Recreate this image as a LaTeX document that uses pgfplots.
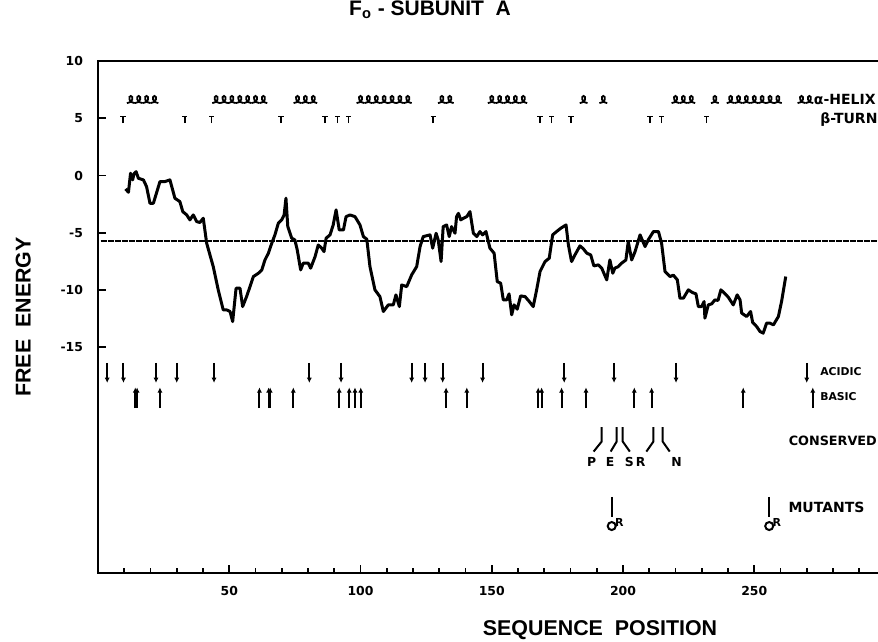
\documentclass[border=0pt]{standalone}
\usepackage{pgfplots}
\pgfplotsset{compat=1.18}
\usepackage{fontspec}
\setmainfont{Liberation Sans}
\newfontfamily\dvs{DejaVu Sans}
\usetikzlibrary{arrows.meta}
\newcommand\tlab{\dvs\fontsize{6.2}{7}\selectfont\bfseries}
\newcommand\slab{\dvs\fontsize{5.4}{6.5}\selectfont\bfseries}
\newcommand\mlab{\dvs\fontsize{7}{8}\selectfont\bfseries}
\pgfdeclareplotmark{helixloop}{%
 \pgfpathmoveto{\pgfqpoint{-1.95pt}{-1.6pt}}%
 \pgfpathcurveto{\pgfqpoint{1.2pt}{-1.6pt}}{\pgfqpoint{1.4pt}{2.0pt}}{\pgfqpoint{0pt}{2.0pt}}%
 \pgfpathcurveto{\pgfqpoint{-1.4pt}{2.0pt}}{\pgfqpoint{-1.0pt}{-1.6pt}}{\pgfqpoint{1.95pt}{-1.6pt}}%
 \pgfusepathqstroke}
\pgfdeclareplotmark{turnT}{%
 \pgfpathmoveto{\pgfqpoint{0pt}{-1.8pt}}\pgfpathlineto{\pgfqpoint{0pt}{1.5pt}}%
 \pgfpathmoveto{\pgfqpoint{-1.3pt}{1.5pt}}\pgfpathlineto{\pgfqpoint{1.3pt}{1.5pt}}%
 \pgfusepathqstroke}
\begin{document}
\begin{tikzpicture}
\begin{axis}[
  at={(0,0)}, anchor=south west,
  scale only axis, width=393.75pt, height=256pt,
  xmin=0, xmax=300, ymin=-34.7, ymax=10,
  axis line style={line width=1.3pt},
  xtick={50,100,150,200,250}, minor xtick={10,20,...,290},
  ytick={-15,-10,...,10},
  xtick pos=bottom, ytick pos=left, tick align=inside,
  major tick length=4pt, minor tick length=2.6pt,
  tick style={line width=0.9pt, black},
  /pgf/number format/assume math mode=true,
  tick label style={font=\tlab},
  yticklabel style={xshift=-4pt},
  xticklabel style={yshift=-3pt},
  title={F\textsubscript{o} - SUBUNIT \ A},
  title style={font=\fontsize{10.5}{12}\selectfont\bfseries, at={(axis description cs:0.4216,1)}, anchor=center, yshift=19.5pt},
  xlabel={SEQUENCE \ POSITION},
  xlabel style={font=\fontsize{10.7}{12}\selectfont\bfseries, at={(axis description cs:0.6375,0)}, anchor=center, yshift=-28.5pt},
  ylabel={FREE \ ENERGY},
  ylabel style={font=\fontsize{10.7}{12}\selectfont\bfseries, at={(axis description cs:-0.095,0.5)}, anchor=center},
  clip=false,
]
% threshold line
\addplot[line width=1pt, dash pattern=on 3pt off 0.5pt] coordinates {(1,-5.7) (300,-5.7)};
% free energy profile
\addplot[line width=1.5pt, line join=round] coordinates {
(10.5,-1.17) (11.6,-1.46) (12.4,0.2) (13.2,-0.38) (13.7,0.14) (14.5,0.34) (15.4,-0.24) (17.3,-0.38)
(18.5,-0.97) (19.8,-2.42) (21.1,-2.42) (23.6,-0.53) (25.5,-0.53) (27.4,-0.38) (29.3,-1.98) (31.2,-2.28)
(32.3,-3.15) (33.8,-3.44) (35.0,-3.87) (36.3,-3.44) (37.6,-4.02) (38.8,-4.1) (40.1,-3.73) (41.4,-5.91)
(43.9,-7.95) (45.8,-9.98) (47.7,-11.73) (49.0,-11.73) (50.3,-11.87) (51.3,-12.75) (52.6,-9.84) (54.1,-9.84)
(55.1,-11.44) (56.6,-10.57) (57.9,-9.7) (59.2,-8.82) (61.1,-8.53) (62.4,-8.24) (63.6,-7.37) (64.9,-6.78)
(66.2,-5.91) (67.4,-5.18) (68.7,-4.16) (70.0,-3.87) (70.9,-3.44) (71.6,-1.98) (72.3,-4.46) (73.8,-5.47)
(75.0,-5.62) (75.9,-6.49) (77.2,-8.24) (78.2,-7.65) (80.1,-7.65) (81.0,-8.09) (82.7,-7.08) (83.9,-6.06)
(85.2,-6.34) (86.1,-6.64) (86.9,-5.47) (88.4,-5.18) (89.6,-4.31) (90.7,-3.0) (91.9,-4.75) (93.5,-4.75)
(94.5,-3.59) (96.0,-3.44) (97.9,-3.59) (99.8,-4.31) (101.1,-5.33) (102.4,-5.56) (103.6,-7.95) (105.5,-9.98)
(107.4,-10.57) (108.7,-11.87) (110.6,-11.29) (112.5,-11.29) (113.5,-10.42) (114.8,-11.44) (115.7,-9.55) (117.6,-9.7)
(119.5,-8.67) (121.4,-7.95) (122.7,-6.2) (123.9,-5.33) (126.5,-5.18) (127.5,-6.34) (128.8,-5.04) (129.6,-5.62)
(130.7,-7.51) (131.5,-4.46) (132.8,-4.31) (133.8,-5.33) (134.7,-4.46) (136.0,-5.04) (136.6,-3.59) (137.3,-3.3)
(138.2,-3.87) (139.2,-3.73) (140.5,-3.59) (141.7,-3.15) (143.0,-5.04) (144.3,-5.33) (145.5,-4.89) (146.5,-5.18)
(147.8,-4.89) (149.3,-6.34) (150.9,-6.78) (152.1,-9.26) (153.4,-9.4) (154.4,-10.86) (155.7,-10.86) (156.6,-10.33)
(157.6,-12.16) (158.5,-11.29) (159.7,-11.67) (161.0,-10.51) (162.7,-10.57) (164.3,-11.0) (165.8,-11.44) (167.1,-9.98)
(168.4,-8.38) (170.3,-7.51) (171.9,-7.22) (173.2,-5.18) (174.7,-4.89) (176.3,-4.6) (178.3,-4.31) (179.2,-6.06)
(180.4,-7.51) (181.7,-6.93) (183.6,-6.14) (184.9,-6.4) (186.2,-6.78) (187.7,-6.93) (188.9,-7.89) (190.6,-7.8)
(191.9,-8.09) (193.8,-9.11) (195.0,-7.37) (196.1,-8.53) (196.9,-8.09) (198.2,-7.95) (199.5,-7.65) (201.1,-7.37)
(202.0,-5.77) (203.3,-7.37) (204.6,-6.64) (206.5,-5.18) (208.4,-6.2) (209.6,-5.62) (211.6,-4.89) (213.5,-4.89)
(214.7,-5.91) (216.0,-8.38) (217.9,-8.82) (219.2,-8.7) (220.7,-9.11) (221.7,-10.71) (223.0,-10.71) (224.9,-9.98)
(226.5,-10.22) (227.8,-10.33) (228.7,-11.44) (229.9,-11.44) (230.9,-11.0) (231.2,-12.45) (232.5,-11.29) (233.8,-11.2)
(235.0,-10.86) (236.2,-10.9) (237.3,-9.98) (238.9,-10.33) (240.1,-10.62) (242.0,-11.29) (243.5,-10.42) (244.6,-10.86)
(245.2,-12.01) (247.1,-12.31) (248.6,-11.87) (249.4,-12.83) (250.9,-13.18) (252.2,-13.62) (253.4,-13.76) (254.7,-12.89)
(256.0,-12.89) (257.3,-13.04) (259.2,-12.31) (260.4,-11.0) (262.0,-8.82)
};
% alpha helices
\addplot[only marks, mark=helixloop, mark options={line width=0.9pt, solid}] coordinates {
(12.5,6.6) (15.5,6.6) (18.5,6.6) (21.5,6.6)
(45,6.6) (48,6.6) (51,6.6) (54,6.6) (57,6.6) (60,6.6) (63,6.6)
(76,6.6) (79,6.6) (82,6.6)
(100,6.6) (103,6.6) (106,6.6) (109,6.6) (112,6.6) (115,6.6) (118,6.6)
(131,6.6) (134,6.6)
(150,6.6) (153,6.6) (156,6.6) (159,6.6) (162,6.6)
(185,6.6) (192.5,6.6)
(220,6.6) (223,6.6) (226,6.6)
(235,6.6)
(241,6.6) (244,6.6) (247,6.6) (250,6.6) (253,6.6) (256,6.6) (259,6.6)
(268,6.6) (271,6.6)
};
% beta turns
\addplot[only marks, mark=turnT, mark options={line width=0.75pt, solid}] coordinates {
(9.5,4.9) (33.1,4.9) (43.3,4.9) (69.7,4.9) (86.5,4.9) (91.2,4.9) (95.4,4.9) (127.7,4.9)
(168.4,4.9) (172.8,4.9) (180.2,4.9) (210.3,4.9) (214.7,4.9) (231.9,4.9)
};
% acidic residues (arrows down)
\addplot[quiver={u=0,v=-1.75}, -{Latex[length=2.6pt,width=2.6pt]}, line width=1pt] coordinates {
(3.5,-16.35) (9.7,-16.35) (22.1,-16.35) (30,-16.35) (44.2,-16.35) (80.5,-16.35) (92.6,-16.35)
(119.5,-16.35) (124.6,-16.35) (131.3,-16.35) (146.5,-16.35) (177.6,-16.35) (196.6,-16.35) (220.2,-16.35)
(270,-16.35)
};
% basic residues (arrows up)
\addplot[quiver={u=0,v=1.8}, -{Latex[length=2.6pt,width=2.6pt]}, line width=1pt] coordinates {
(14.2,-20.3) (14.9,-20.3) (23.6,-20.3) (61.5,-20.3) (65.0,-20.3) (65.6,-20.3) (74.4,-20.3) (91.9,-20.3)
(95.7,-20.3) (97.9,-20.3) (100.1,-20.3) (132.6,-20.3) (140.5,-20.3) (167.7,-20.3) (169.0,-20.3)
(176.6,-20.3) (185.9,-20.3) (204.3,-20.3) (210.9,-20.3) (245.8,-20.3) (272.3,-20.3)
};
% conserved residues
\addplot[line width=1pt] coordinates {(191.9,-21.96) (191.9,-23.22) (188.8,-24.1)};
\addplot[line width=1pt] coordinates {(197.6,-21.96) (197.6,-23.22) (195.3,-24.1)};
\addplot[line width=1pt] coordinates {(199.9,-21.96) (199.9,-23.22) (202.6,-24.1)};
\addplot[line width=1pt] coordinates {(211.6,-21.96) (211.6,-23.22) (208.9,-24.1)};
\addplot[line width=1pt] coordinates {(215.1,-21.96) (215.1,-23.22) (217.8,-24.1)};
% mutants
\addplot[quiver={u=0,v=-1.75}, line width=1pt] coordinates {(195.7,-28.05) (255.7,-28.05)};
\addplot[only marks, mark=o, mark size=2pt, mark options={line width=1pt}] coordinates {(195.7,-30.6) (255.7,-30.6)};
% labels
\node[anchor=west, font=\mlab, inner sep=0pt] at (axis cs:272.6,6.6) {α-HELIX};
\node[anchor=west, font=\mlab, inner sep=0pt] at (axis cs:275,4.85) {β-TURN};
\node[anchor=west, font=\slab, inner sep=0pt] at (axis cs:275,-17.1) {ACIDIC};
\node[anchor=west, font=\slab, inner sep=0pt] at (axis cs:275,-19.3) {BASIC};
\node[anchor=west, font=\dvs\fontsize{6.4}{7.5}\selectfont\bfseries, inner sep=0pt] at (axis cs:263,-23.2) {CONSERVED};
\node[anchor=west, font=\mlab, inner sep=0pt] at (axis cs:262.9,-29.0) {MUTANTS};
\node[font=\tlab, inner sep=0pt] at (axis cs:188.1,-25.05) {P};
\node[font=\tlab, inner sep=0pt] at (axis cs:195.1,-25.05) {E};
\node[font=\tlab, inner sep=0pt] at (axis cs:202.4,-25.05) {S};
\node[font=\tlab, inner sep=0pt] at (axis cs:206.7,-25.05) {R};
\node[font=\tlab, inner sep=0pt] at (axis cs:220.4,-25.05) {N};
\node[font=\dvs\fontsize{5.5}{6}\selectfont\bfseries, inner sep=0pt] at (axis cs:198.6,-30.25) {R};
\node[font=\dvs\fontsize{5.5}{6}\selectfont\bfseries, inner sep=0pt] at (axis cs:258.6,-30.25) {R};
\end{axis}
\pgfresetboundingbox
\useasboundingbox (-49pt,-34.5pt) rectangle (390pt,286.5pt);
\end{tikzpicture}
\end{document}
